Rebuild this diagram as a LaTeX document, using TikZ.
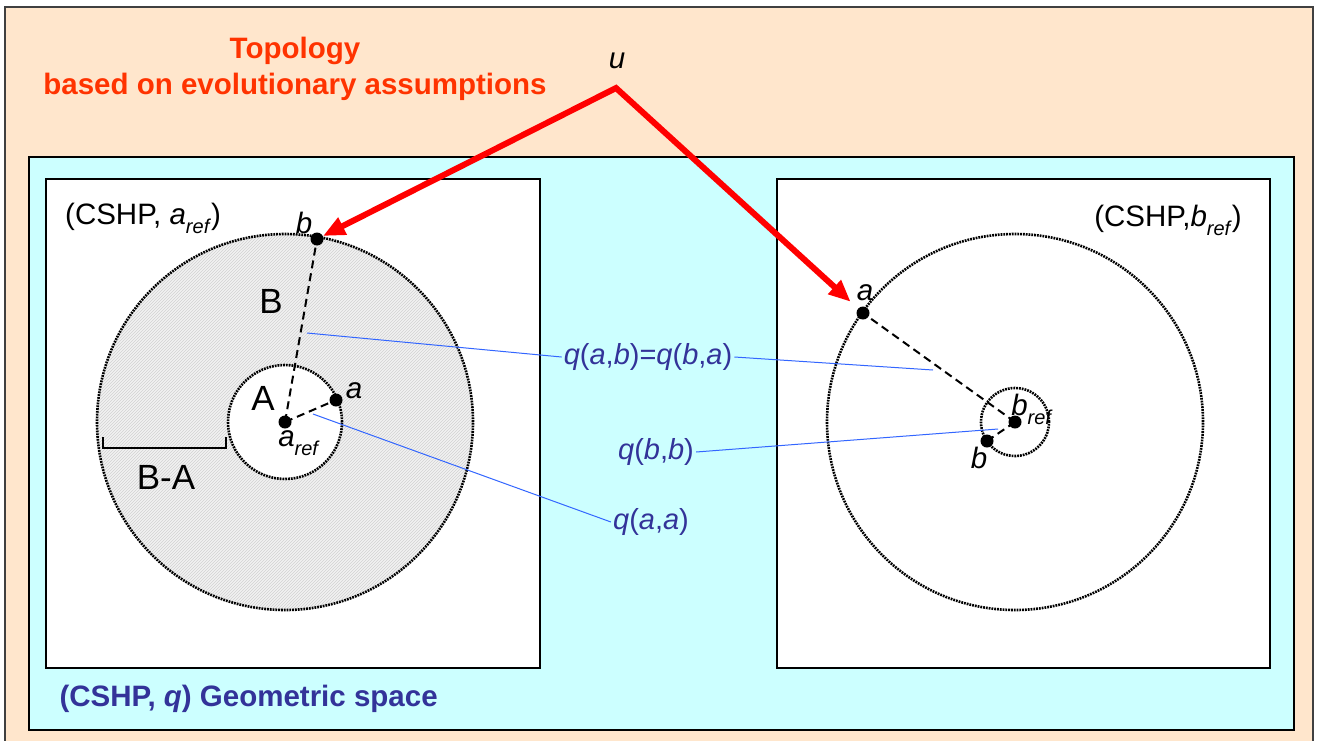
\documentclass[tikz,border=0pt]{standalone}
\usepackage{fontspec}
\setmainfont{Liberation Sans}
\usepackage{xcolor}
\usetikzlibrary{positioning,arrows.meta,patterns}
\definecolor{peach}{RGB}{255,230,204}
\definecolor{aqua}{RGB}{204,255,255}
\definecolor{topored}{RGB}{255,51,0}
\definecolor{qblue}{RGB}{51,51,153}
\definecolor{linkblue}{RGB}{51,102,255}
\newcommand{\refsub}{\raisebox{-0.3em}{\fontsize{20}{20}\selectfont\textit{ref}}}
\newcommand{\qof}[2]{\textit{q}(\textit{#1},\textit{#2})}

\begin{document}
\begin{tikzpicture}[x=1pt, y=-1pt,
      frame/.style={draw=black, line width=1.4pt},
      ring/.style={draw=black, line width=2.6pt, dash pattern=on 1.8pt off 1pt},
      radius line/.style={draw=black, line width=2pt, dash pattern=on 8pt off 5pt},
      dot/.style={circle, fill=black, inner sep=0pt, minimum size=13pt},
      lbl/.style={font=\fontsize{29.5}{34}\selectfont, inner sep=1pt},
      big/.style={font=\fontsize{35}{40}\selectfont, inner sep=1pt},
      qlbl/.style={font=\fontsize{29}{34}\selectfont, text=qblue, inner sep=2pt},
      link/.style={draw=linkblue, line width=1pt},
      redarr/.style={draw=red, line width=6pt, line join=miter,
        {Triangle[length=22pt,width=18pt]}-{Triangle[length=22pt,width=18pt]}}]
    \useasboundingbox (0,0) rectangle (1317,740);
    % frames
    \draw[frame, draw=black!75, fill=peach] (5,7) rectangle (1313,744);
    \draw[frame, fill=aqua] (29,157) rectangle (1294,730);
    \draw[frame, fill=white] (46,179) rectangle (540,668);
    \draw[frame, fill=white] (777,179) rectangle (1270,668);
    \node[font=\bfseries\fontsize{29.5}{36}\selectfont, text=topored, align=center] (topo) at (295,69)
      {Topology\\based on evolutionary assumptions};
    \node[anchor=west, font=\bfseries\fontsize{29.5}{34}\selectfont, text=qblue] (geo) at (56,699)
      {(CSHP, \textit{q}) Geometric space};
    \node[lbl] (u) at (617,61) {\textit{u}};
    \coordinate (apex) at (616,88);
    % left space
    \coordinate (lc) at (285,422);
    \fill[gray!10] (lc) circle[radius=188pt];
    \fill[pattern=north east lines, pattern color=gray!35] (lc) circle[radius=188pt];
    \fill[white] (lc) circle[radius=57pt];
    \draw[ring] (lc) circle[radius=188pt];
    \draw[ring] (lc) circle[radius=57pt];
    \node[dot] (aref) at (lc) {};
    \node[dot] (lb) at (317,239) {};
    \node[dot] (la) at (336,400) {};
    \draw[radius line] (aref.center) -- (lb.center);
    \draw[radius line] (aref.center) -- (la.center);
    \node[lbl, anchor=west] (lname) at (64,218) {(CSHP, \textit{a}\refsub)};
    \node[lbl] (lbl-b) at (304,223) {\textit{b}};
    \node[lbl] (lbl-a) at (354,391) {\textit{a}};
    \node[lbl] (lbl-aref) at (299,443) {\textit{a}\refsub};
    \node[big] (setA) at (263,398) {A};
    \node[big] (setB) at (271,301) {B};
    \node[big] (setBA) at (166,477) {B-A};
    \draw[line width=1.3pt] (103,437) -- (103,448) -- (226,448) -- (226,437);
    % right space
    \coordinate (rc) at (1015,422);
    \draw[ring] (rc) circle[radius=188pt];
    \draw[ring] (rc) circle[radius=34pt];
    \node[dot] (bref) at (rc) {};
    \node[dot] (ra) at (863,313) {};
    \node[dot] (rb) at (987,441) {};
    \draw[radius line] (bref.center) -- (ra.center);
    \draw[radius line] (bref.center) -- (rb.center);
    \node[lbl, anchor=east] (rname) at (1243,220) {(CSHP,\textit{b}\refsub)};
    \node[lbl] (lbl-ra) at (865,293) {\textit{a}};
    \node[lbl] (lbl-bref) at (1032,409) {\textit{b}\refsub};
    \node[lbl] (lbl-rb) at (979,458) {\textit{b}};
    % distances
    \node[qlbl] (qab) at (648,357) {\qof{a}{b}=\qof{b}{a}};
    \node[qlbl] (qbb) at (656,452) {\qof{b}{b}};
    \node[qlbl] (qaa) at (651,522) {\qof{a}{a}};
    \coordinate (lbmid) at (307,333);
    \coordinate (lamid) at (313,414);
    \coordinate (rbmid) at (933,370);
    \coordinate (rbb) at (998,429);
    \draw[link] (lbmid) -- (qab.west);
    \draw[link] (qab.east) -- (rbmid);
    \draw[link] (lamid) -- (qaa.west);
    \draw[link] (qbb.east) -- (rbb);
    % topology arrows
    \draw[redarr, shorten >=10pt] (lb) -- (apex) -- (ra);
  \end{tikzpicture}
\end{document}
